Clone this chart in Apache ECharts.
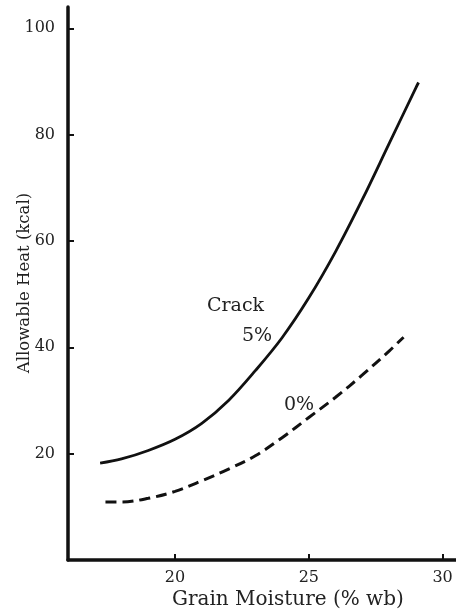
<!DOCTYPE html>
<html>
<head>
<meta charset="utf-8">
<script src="https://cdn.jsdelivr.net/npm/echarts@6/dist/echarts.min.js"></script>
<style>html,body{margin:0;padding:0;background:#fff}#c{width:456px;height:612px}</style>
</head>
<body>
<div id="c"></div>
<script>
const crack5X = [17.2, 18, 19, 20, 21, 22, 23, 24, 25, 26, 27, 28, 29, 29.1];
const crack5Y = [18.2, 19.0, 20.6, 22.7, 25.7, 30.0, 35.6, 41.8, 49.3, 58.0, 67.8, 78.3, 88.8, 89.8];
const crack0X = [17.4, 18, 19, 20, 21, 22, 23, 24, 25, 26, 27, 28, 28.54];
const crack0Y = [10.9, 10.9, 11.6, 12.9, 14.9, 17.1, 19.6, 23.0, 26.8, 30.6, 34.8, 39.3, 41.9];
const xTicks = [20, 25, 30];
const yTicks = [20, 40, 60, 80, 100];
const xName = 'Grain Moisture (% wb)';
const yName = 'Allowable Heat (kcal)';

const font = '"DejaVu Serif", "Liberation Serif", serif';
const chart = echarts.init(document.getElementById('c'), null, {renderer: 'canvas'});
const pair = (xs, ys) => xs.map((x, i) => [x, ys[i]]);
chart.setOption({
  animation: false,
  backgroundColor: '#fff',
  grid: {left: 68, top: 7, right: 0, bottom: 52},
  xAxis: {
    type: 'value', min: 16, max: 30.5,
    axisLine: {lineStyle: {color: '#111', width: 3.5}},
    axisTick: {show: true, inside: true, length: 6, customValues: xTicks, lineStyle: {color: '#111', width: 2}},
    axisLabel: {customValues: xTicks, color: '#222', fontFamily: font, fontSize: 16, margin: 10},
    splitLine: {show: false}
  },
  yAxis: {
    type: 'value', min: 0, max: 104,
    axisLine: {show: true, lineStyle: {color: '#111', width: 3.5}},
    axisTick: {show: true, inside: true, length: 6, customValues: yTicks, lineStyle: {color: '#111', width: 2}},
    axisLabel: {customValues: yTicks, color: '#222', fontFamily: font, fontSize: 16, margin: 13},
    splitLine: {show: false}
  },
  series: [
    {type: 'line', data: pair(crack5X, crack5Y), smooth: 0.35, symbol: 'none',
     lineStyle: {color: '#111', width: 2.8}},
    {type: 'line', data: pair(crack0X, crack0Y), smooth: 0.35, symbol: 'none',
     lineStyle: {color: '#111', width: 3, type: [11, 6]}}
  ],
  graphic: [
    {type: 'text', left: 207, top: 297, style: {text: 'Crack', font: '19px ' + font, fill: '#222'}},
    {type: 'text', left: 242, top: 327, style: {text: '5%', font: '19px ' + font, fill: '#222'}},
    {type: 'text', left: 284, top: 396, style: {text: '0%', font: '19px ' + font, fill: '#222'}},
    {type: 'text', left: 172, top: 590, style: {text: xName, font: '20px ' + font, fill: '#222'}},
    {type: 'text', x: 25, y: 283, rotation: Math.PI / 2,
     style: {text: yName, font: '16.5px ' + font, fill: '#222', align: 'center', verticalAlign: 'middle'}}
  ]
});
</script>
</body>
</html>
